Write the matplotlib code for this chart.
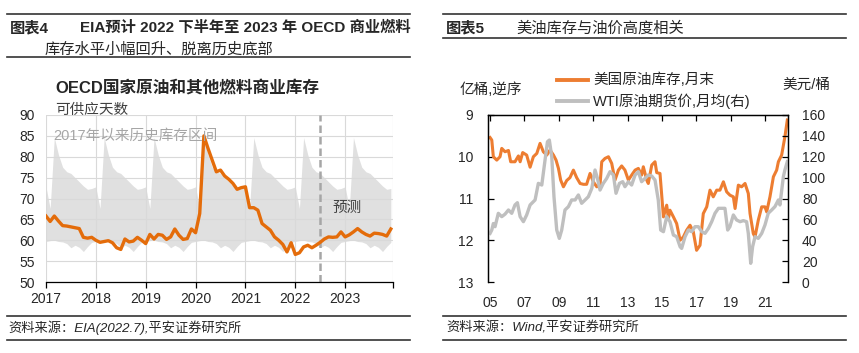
import matplotlib
matplotlib.use('Agg')
import matplotlib.pyplot as plt
import numpy as np
from matplotlib.lines import Line2D

plt.rcParams['font.family'] = ['Liberation Sans', 'Noto Sans CJK SC']
plt.rcParams['axes.unicode_minus'] = False

# ---------------- data: left chart (OECD days of supply, monthly 2017-01 .. 2023-12)
oecd_2017 = [65.8, 64.5, 65.8, 64.6, 63.5, 63.4, 63.2, 63.0, 62.8, 60.7, 60.5, 60.7]
oecd_2018 = [60.0, 59.5, 59.7, 59.9, 59.4, 58.2, 57.8, 60.3, 59.6, 59.8, 60.7, 60.0]
oecd_2019 = [59.2, 61.4, 60.3, 61.4, 61.2, 60.2, 60.8, 62.7, 61.2, 60.2, 60.4, 62.7]
oecd_2020 = [61.8, 66.4, 85.0, 82.0, 79.2, 76.4, 76.8, 75.4, 74.6, 73.6, 72.2, 72.6]
oecd_2021 = [72.8, 67.8, 67.8, 67.2, 64.0, 63.2, 62.4, 60.8, 60.0, 59.0, 57.2, 59.4]
oecd_2022 = [56.6, 57.0, 58.4, 58.8, 58.2, 58.8, 59.5, 60.3, 60.8, 60.7, 60.8, 62.0]
oecd_2023 = [60.8, 61.3, 62.0, 62.8, 62.0, 61.4, 61.0, 61.7, 61.6, 61.4, 61.0, 62.7]
# historical range since 2017 for each calendar month (Jan..Dec)
range_upper = [72.8, 67.6, 84.6, 80.5, 77.5, 76.4, 76.0, 75.0, 74.0, 73.0, 72.2, 72.4]
range_lower = [59.7, 59.9, 60.0, 59.7, 59.6, 59.2, 58.2, 58.8, 58.3, 57.3, 58.5, 59.5]
years_left = [2017, 2018, 2019, 2020, 2021, 2022, 2023]
forecast_start = 2022.5

# ---------------- data: right chart
inv_dates = [2005.0, 2005.10, 2005.19, 2005.39, 2005.58, 2005.68, 2005.87, 2006.07, 2006.2, 2006.45,
             2006.65, 2006.75, 2006.9, 2007.13, 2007.33, 2007.52, 2007.72, 2007.91, 2008.1, 2008.3,
             2008.49, 2008.69, 2008.84, 2008.98, 2009.11, 2009.27, 2009.46, 2009.65, 2009.85, 2010.04,
             2010.24, 2010.43, 2010.62, 2010.82, 2011.01, 2011.21, 2011.4, 2011.5, 2011.69, 2011.89,
             2012.08, 2012.27, 2012.47, 2012.66, 2012.85, 2013.05, 2013.24, 2013.44, 2013.63, 2013.82,
             2013.92, 2014.12, 2014.21, 2014.41, 2014.6, 2014.7, 2014.89, 2015.09, 2015.28, 2015.38,
             2015.47, 2015.67, 2015.86, 2016.06, 2016.25, 2016.44, 2016.64, 2016.83, 2017.02, 2017.22,
             2017.41, 2017.61, 2017.8, 2017.99, 2018.19, 2018.38, 2018.58, 2018.77, 2018.96, 2019.16,
             2019.26, 2019.45, 2019.64, 2019.84, 2020.03, 2020.13, 2020.32, 2020.42, 2020.61, 2020.81,
             2021.0, 2021.1, 2021.29, 2021.49, 2021.68, 2021.78, 2021.97, 2022.16, 2022.3]
inv_values = [9.54, 9.6, 10.0, 10.08, 10.0, 9.8, 9.88, 9.85, 10.12, 10.12,
              9.98, 10.12, 9.9, 9.96, 10.25, 10.0, 9.92, 9.68, 9.88, 9.96,
              9.84, 9.96, 10.08, 10.28, 10.56, 10.72, 10.57, 10.5, 10.32, 10.5,
              10.64, 10.66, 10.66, 10.4, 10.6, 10.72, 10.68, 10.12, 10.04, 10.0,
              10.16, 10.56, 10.32, 10.22, 10.32, 10.56, 10.44, 10.32, 10.28, 10.44,
              10.24, 10.56, 10.64, 10.2, 10.12, 10.38, 10.4, 11.44, 11.16, 11.48,
              11.28, 11.44, 11.6, 12.0, 11.92, 11.76, 11.64, 11.8, 12.24, 12.12,
              11.36, 11.2, 10.8, 10.96, 10.8, 10.8, 10.6, 10.84, 10.92, 10.96,
              11.24, 10.68, 10.72, 10.64, 10.88, 11.36, 11.84, 11.92, 11.52, 11.2,
              11.2, 11.32, 10.96, 10.48, 10.32, 10.12, 9.96, 9.52, 9.12]
wti_dates = [2005.0, 2005.10, 2005.19, 2005.29, 2005.48, 2005.68, 2005.87, 2006.07, 2006.26, 2006.45,
             2006.59, 2006.75, 2006.94, 2007.13, 2007.33, 2007.62, 2007.81, 2008.01, 2008.2, 2008.34,
             2008.45, 2008.59, 2008.72, 2008.88, 2009.03, 2009.17, 2009.36, 2009.56, 2009.75, 2009.95,
             2010.14, 2010.33, 2010.53, 2010.72, 2010.92, 2011.11, 2011.25, 2011.4, 2011.59, 2011.79,
             2011.98, 2012.18, 2012.33, 2012.53, 2012.72, 2012.85, 2013.05, 2013.24, 2013.44, 2013.63,
             2013.82, 2014.02, 2014.21, 2014.41, 2014.6, 2014.79, 2014.93, 2015.09, 2015.28, 2015.47,
             2015.67, 2015.86, 2016.06, 2016.15, 2016.35, 2016.54, 2016.73, 2016.93, 2017.12, 2017.32,
             2017.51, 2017.71, 2017.9, 2018.09, 2018.29, 2018.48, 2018.67, 2018.83, 2018.96, 2019.16,
             2019.35, 2019.55, 2019.74, 2019.93, 2020.03, 2020.17, 2020.28, 2020.42, 2020.61, 2020.81,
             2021.0, 2021.19, 2021.39, 2021.58, 2021.78, 2021.87, 2022.07, 2022.16, 2022.3]
wti_values = [46.6, 49.8, 56, 53, 65.8, 62.6, 65, 69, 65.8, 73.8,
              76, 62.6, 57.8, 64.2, 73.8, 78.6, 94.5, 92.9, 116.9, 134.4,
              136, 120, 81.7, 49.8, 41.8, 49.8, 69, 72.2, 78.6, 78.6,
              83.4, 75.4, 78.6, 81.7, 89.7, 107.3, 99.3, 88.1, 94.5, 99.3,
              105.7, 102.5, 85, 94.5, 96.1, 91.3, 96.1, 92.9, 102.5, 105.7,
              96.1, 99.3, 102.5, 101.5, 97.7, 78.6, 49.8, 48.2, 62.6, 57.8,
              45, 43.4, 33.8, 32.2, 43.4, 49.8, 48.2, 53, 53, 48.2,
              46.6, 51.4, 57.8, 65.8, 70.6, 70.6, 70.6, 49.8, 53, 64.2,
              59.4, 57.8, 58.8, 57.8, 46.6, 17.9, 33.8, 43.4, 41.8, 46.6,
              54.6, 65.8, 69, 72.2, 78.6, 73.8, 100.9, 107.3, 115.3]
right_xticks = [2005, 2007, 2009, 2011, 2013, 2015, 2017, 2019, 2021]
right_xlabels = ['05', '07', '09', '11', '13', '15', '17', '19', '21']

# ---------------- figure
W, H = 859, 353
fig = plt.figure(figsize=(W / 100, H / 100), dpi=100)


def fx(px):
    return px / W


def fy(py):
    return 1 - py / H


def hline(x0, x1, y, lw=1.2, color='#333333'):
    fig.add_artist(Line2D([fx(x0), fx(x1)], [fy(y), fy(y)], transform=fig.transFigure,
                          color=color, lw=lw))


TXT = '#262626'
# headers
hline(7, 410, 14)
hline(7, 410, 57)
hline(443, 846, 14)
hline(443, 846, 38)
fig.text(fx(10), fy(28), '图表4', fontsize=11, fontweight='bold', va='center', color=TXT)
fig.text(fx(80), fy(28), 'EIA预计 2022 下半年至 2023 年 OECD 商业燃料', fontsize=11,
         fontweight='bold', va='center', color=TXT)
fig.text(fx(45), fy(50), '库存水平小幅回升、脱离历史底部', fontsize=11, va='center', color=TXT)
fig.text(fx(446), fy(28), '图表5', fontsize=11, fontweight='bold', va='center', color=TXT)
fig.text(fx(516), fy(28), '美油库存与油价高度相关', fontsize=11, va='center', color=TXT)

# footers
hline(7, 410, 316)
hline(7, 410, 340)
hline(443, 846, 316)
hline(443, 846, 340)
fig.text(fx(8), fy(328), '资料来源：EIA(2022.7),平安证券研究所', fontsize=9.5, style='italic',
         va='center', color=TXT)
fig.text(fx(446), fy(328), '资料来源：Wind,平安证券研究所', fontsize=9.5, style='italic',
         va='center', color=TXT)

# ---------------- left chart
ax1 = fig.add_axes([fx(46), fy(282), fx(393) - fx(46), fy(115) - fy(282)])
oecd = oecd_2017 + oecd_2018 + oecd_2019 + oecd_2020 + oecd_2021 + oecd_2022 + oecd_2023
months = years_left[0] + np.arange(len(oecd)) / 12.0
upper = np.array(range_upper * len(years_left))
lower = np.array(range_lower * len(years_left))
ax1.fill_between(months, lower, upper, color='#e0e0e0', lw=0, zorder=1)
ax1.plot(months, oecd, color='#E46C0A', lw=2.4, zorder=3, solid_joinstyle='round')
ax1.axvline(forecast_start, color='#a6a6a6', ls=(0, (3, 1.6)), lw=1.8, zorder=2.5)
ax1.set_xlim(2017, 2023.96)
ax1.set_ylim(50, 90)
ax1.set_yticks(range(50, 95, 5))
ax1.set_xticks(years_left + [2023.96])
ax1.set_xticklabels([str(y) for y in years_left] + [''])
ax1.grid(True, color='#d9d9d9', lw=0.8)
ax1.set_axisbelow('line')
for s in ['left', 'top', 'right']:
    ax1.spines[s].set_visible(False)
ax1.spines['bottom'].set_color('black')
ax1.spines['bottom'].set_linewidth(0.9)
ax1.tick_params(axis='x', length=4, width=0.9, color='black', pad=3, labelsize=10, labelcolor=TXT)
ax1.tick_params(axis='y', length=0, pad=8, labelsize=10, labelcolor=TXT)
ax1.set_facecolor('none')

fig.text(fx(55), fy(88), 'OECD国家原油和其他燃料商业库存', fontsize=12, fontweight='bold',
         va='center', color=TXT)
fig.text(fx(55), fy(110), '可供应天数', fontsize=10.5, va='center', color='#404040')
fig.text(fx(53), fy(136), '2017年以来历史库存区间', fontsize=10.5, va='center', color='#a6a6a6')
fig.text(fx(347), fy(208), '预测', fontsize=10.5, va='center', ha='center', color='#404040')

# ---------------- right chart
ax2 = fig.add_axes([fx(488), fy(282), fx(788) - fx(488), fy(115) - fy(282)])
ax2.plot(inv_dates, inv_values, color='#ED7D31', lw=2.2, solid_joinstyle='round')
ax2.set_ylim(13, 9)
ax2.set_yticks([9, 10, 11, 12, 13])
ax2.set_xlim(2004.88, 2022.34)
ax2.set_xticks(right_xticks)
ax2.set_xticklabels(right_xlabels)
ax3 = ax2.twinx()
ax3.plot(wti_dates, wti_values, color='#BFBFBF', lw=2.4, solid_joinstyle='round')
ax3.set_ylim(0, 160)
ax3.set_yticks(range(0, 161, 20))
for a in (ax2, ax3):
    a.spines['bottom'].set_visible(False)
    for s in ['left', 'top', 'right']:
        a.spines[s].set_color('black')
        a.spines[s].set_linewidth(0.9)
ax2.tick_params(axis='x', bottom=False, top=True, labelbottom=True, labeltop=False,
                direction='in', length=4, width=0.9, pad=10, labelsize=10, labelcolor=TXT)
ax2.tick_params(axis='y', direction='in', length=4, width=0.9, pad=10.5, labelsize=10,
                labelcolor=TXT)
ax3.tick_params(axis='y', direction='in', length=4, width=0.9, pad=10, labelsize=10,
                labelcolor=TXT)

fig.text(fx(460), fy(90), '亿桶,逆序', fontsize=10.5, va='center', color=TXT)
fig.text(fx(782), fy(85), '美元/桶', fontsize=10.5, va='center', color=TXT)
fig.add_artist(Line2D([fx(557), fx(588)], [fy(80), fy(80)], transform=fig.transFigure,
                      color='#ED7D31', lw=2.8))
fig.text(fx(593), fy(80), '美国原油库存,月末', fontsize=10.5, va='center', color=TXT)
fig.add_artist(Line2D([fx(557), fx(588)], [fy(101), fy(101)], transform=fig.transFigure,
                      color='#BFBFBF', lw=2.8))
fig.text(fx(593), fy(101), 'WTI原油期货价,月均(右)', fontsize=10.5, va='center', color=TXT)

fig.savefig('out.png', dpi=100)
